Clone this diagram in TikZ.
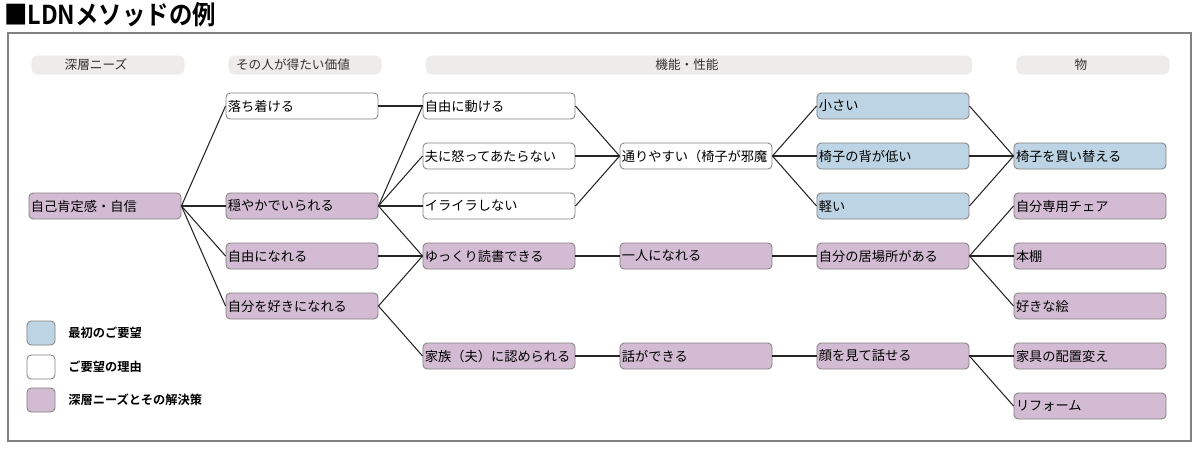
\documentclass[tikz,border=0pt]{standalone}
\usepackage{fontspec}
\setmainfont{Noto Sans CJK JP}
\newfontfamily\jpbold{Noto Sans CJK JP Bold}
\usetikzlibrary{positioning}
\definecolor{wish}{HTML}{BDD4E4}
\definecolor{deep}{HTML}{D3BCD3}
\definecolor{band}{HTML}{EEECEB}
\definecolor{rim}{HTML}{858080}

\begin{document}
\begin{tikzpicture}[x=0.025cm, y=-0.025cm,
	item/.style={draw=rim, line width=0.6pt, rounded corners=3pt, minimum height=0.65cm, text width=3.7cm, inner xsep=0.05cm, inner ysep=0pt, align=left, font=\fontsize{9.4}{11}\selectfont},
	reason/.style={item, fill=white},
	first/.style={item, fill=wish},
	need/.style={item, fill=deep},
	head/.style={fill=band, rounded corners=4pt, minimum height=0.475cm, inner sep=0pt},
	headtext/.style={xshift=-0.3cm, text=black!80, font=\fontsize{9}{11}\selectfont},
	key/.style={draw=rim, line width=0.6pt, rounded corners=3pt, minimum width=0.7cm, minimum height=0.6cm, inner sep=0pt},
	keytext/.style={right=0.2cm of #1, font=\jpbold\fontsize{8.7}{11}\selectfont},
	link/.style={line width=0.75pt, black!85}]
%		\draw [help lines, step=50] (0,0) grid (1200,449);
		\useasboundingbox (0,0) rectangle (1200,449);
		\node [anchor=west, inner sep=0pt, font=\jpbold\fontsize{18.5}{22}\selectfont] (title) at (4,15) {\scalebox{0.9}[1]{■LDNメソッドの例}};
		\draw [rim, line width=0.8pt] (8,33) rectangle (1191,441);
		% column heads
		\node [head, minimum width=3.825cm, label={[headtext]center:深層ニーズ}] (hneeds) at (108,65) {};
		\node [head, minimum width=3.825cm, label={[headtext]center:その人が得たい価値}] (hvalue) at (305,65) {};
		\node [head, minimum width=13.65cm, label={[headtext]center:機能・性能}] (hfunc) at (699,65) {};
		\node [head, minimum width=3.825cm, label={[headtext]center:物}] (hthing) at (1093,65) {};
		% deep needs / values
		\node [need] (selfesteem) at (105,206) {自己肯定感・自信};
		\node [reason] (calm) at (302,106) {落ち着ける};
		\node [need] (peace) at (302,206) {穏やかでいられる};
		\node [need] (free) at (302,256) {自由になれる};
		\node [need] (selflove) at (302,306) {自分を好きになれる};
		% functions
		\node [reason] (move) at (499,106) {自由に動ける};
		\node [reason] (anger) at (499,156) {夫に怒ってあたらない};
		\node [reason] (irritate) at (499,206) {イライラしない};
		\node [need] (read) at (499,256) {ゆっくり読書できる};
		\node [need] (family) at (499,356) {家族（夫）に認められる};
		\node [reason] (pass) at (696,156) {通りやすい（椅子が邪魔};
		\node [need] (alone) at (696,256) {一人になれる};
		\node [need] (talk) at (696,356) {話ができる};
		\node [first] (small) at (893,106) {小さい};
		\node [first] (lowback) at (893,156) {椅子の背が低い};
		\node [first] (light) at (893,206) {軽い};
		\node [need] (place) at (893,256) {自分の居場所がある};
		\node [need] (face) at (893,356) {顔を見て話せる};
		% things
		\node [first] (newchair) at (1090,156) {椅子を買い替える};
		\node [need] (mychair) at (1090,206) {自分専用チェア};
		\node [need] (shelf) at (1090,256) {本棚};
		\node [need] (picture) at (1090,306) {好きな絵};
		\node [need] (layout) at (1090,356) {家具の配置変え};
		\node [need] (reform) at (1090,406) {リフォーム};
		% links
		\foreach \a/\b in {selfesteem/calm, selfesteem/peace, selfesteem/free, selfesteem/selflove,
			calm/move, peace/move, peace/anger, peace/irritate, peace/read, free/read, selflove/read, selflove/family,
			move/pass, anger/pass, irritate/pass, read/alone, family/talk,
			pass/small, pass/lowback, pass/light, alone/place, talk/face,
			small/newchair, lowback/newchair, light/newchair, place/mychair, place/shelf, place/picture, face/layout, face/reform}
			\draw [link] (\a.east) -- (\b.west);
		% legend
		\node [key, fill=wish] (kfirst) at (41,333) {};
		\node [key, fill=white] (kreason) at (41,367) {};
		\node [key, fill=deep] (kneed) at (41,400) {};
		\node [keytext=kfirst] (tfirst) {最初のご要望};
		\node [keytext=kreason] (treason) {ご要望の理由};
		\node [keytext=kneed] (tneed) {深層ニーズとその解決策};
	\end{tikzpicture}
\end{document}
